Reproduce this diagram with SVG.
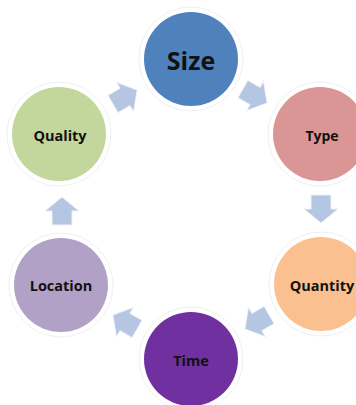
<svg xmlns="http://www.w3.org/2000/svg" width="356" height="405" viewBox="0 0 356 405">
  <defs>
    <style>
      .halo { fill: none; stroke: #f0f0f0; stroke-width: 1; }
      .label { font-family: "Open Sans", "Noto Sans", sans-serif; font-weight: bold; fill: #111111; text-anchor: middle; dominant-baseline: central; }
      .arrow { fill: #b4c6e1; stroke: #eef2f8; stroke-width: 1; }
    </style>
    <!-- block arrow pointing right, centred on the origin -->
    <path id="blockArrow" d="M-14,-10 H0 V-17 L14,0 L0,17 V10 H-14 Z"/>
  </defs>
  <rect width="356" height="405" fill="#ffffff"/>

  <g id="connectors">
    <use href="#blockArrow" class="arrow" transform="translate(255,96) rotate(30)"/>
    <use href="#blockArrow" class="arrow" transform="translate(321,209) rotate(90)"/>
    <use href="#blockArrow" class="arrow" transform="translate(257,322) rotate(150)"/>
    <use href="#blockArrow" class="arrow" transform="translate(125,322) rotate(210)"/>
    <use href="#blockArrow" class="arrow" transform="translate(62,211) rotate(270)"/>
    <use href="#blockArrow" class="arrow" transform="translate(125,97) rotate(330)"/>
  </g>

  <g id="size">
    <circle class="halo" cx="191" cy="59" r="52"/>
    <circle cx="191" cy="59" r="47" fill="#4f81bd"/>
    <text class="label" x="191" y="60" font-size="25">Size</text>
  </g>
  <g id="type">
    <circle class="halo" cx="320" cy="134" r="52"/>
    <circle cx="320" cy="134" r="47" fill="#da9694"/>
    <text class="label" x="322" y="135" font-size="14">Type</text>
  </g>
  <g id="quantity">
    <circle class="halo" cx="321" cy="284" r="52"/>
    <circle cx="321" cy="284" r="47" fill="#fac08f"/>
    <text class="label" x="322" y="285" font-size="14.5">Quantity</text>
  </g>
  <g id="time">
    <circle class="halo" cx="191" cy="359" r="52"/>
    <circle cx="191" cy="359" r="47" fill="#7030a0"/>
    <text class="label" x="191" y="360" font-size="14.5">Time</text>
  </g>
  <g id="location">
    <circle class="halo" cx="61" cy="285" r="52"/>
    <circle cx="61" cy="285" r="47" fill="#b2a1c7"/>
    <text class="label" x="61" y="285" font-size="14.5">Location</text>
  </g>
  <g id="quality">
    <circle class="halo" cx="59" cy="134" r="52"/>
    <circle cx="59" cy="134" r="47" fill="#c3d69b"/>
    <text class="label" x="60" y="135" font-size="14.5">Quality</text>
  </g>
</svg>
